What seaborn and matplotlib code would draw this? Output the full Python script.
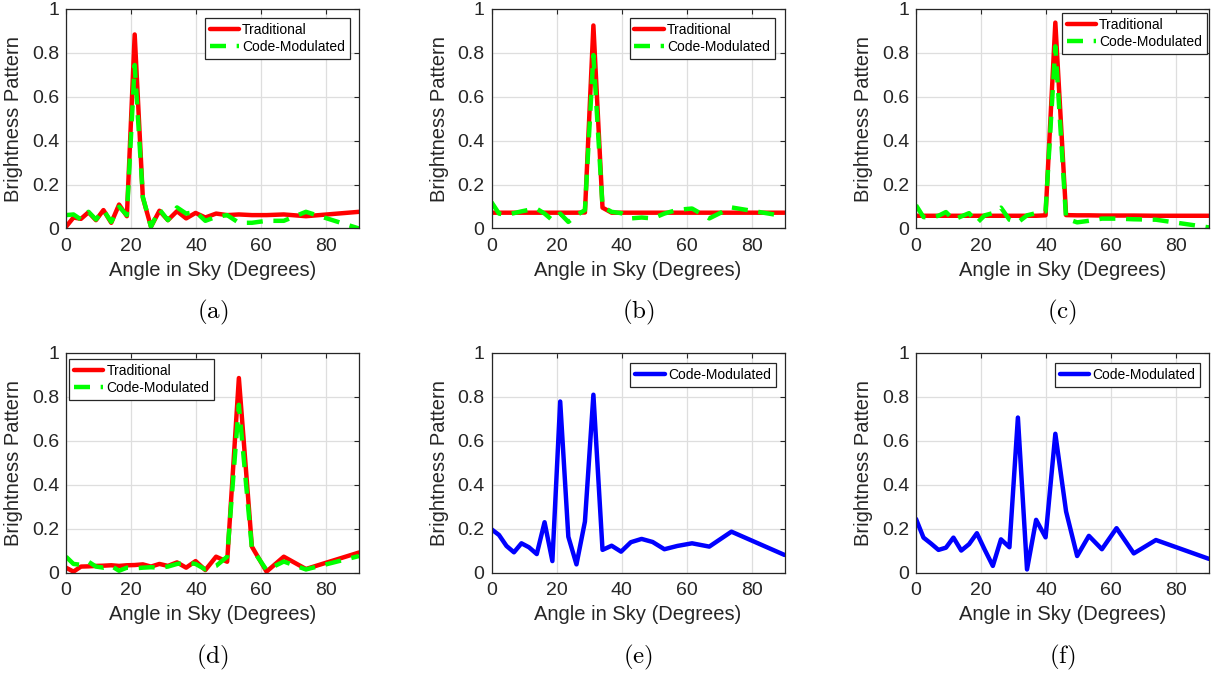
import matplotlib
matplotlib.use("Agg")
import matplotlib.pyplot as plt
import seaborn as sns
import pandas as pd

# ---------------- data ----------------
ANGLES = [0, 2.3, 4.6, 6.9, 9.2, 11.5, 13.9, 16.3, 18.7, 21.1, 23.6, 26.1, 28.7,
          31.3, 34.1, 36.9, 39.8, 42.8, 46.1, 49.5, 53.1, 57.1, 61.6, 66.9, 73.7, 90]

A_TRAD = [0.008, 0.050, 0.044, 0.074, 0.038, 0.084, 0.026, 0.109, 0.056, 0.884, 0.141, 0.008, 0.081,
          0.038, 0.079, 0.046, 0.071, 0.050, 0.068, 0.061, 0.064, 0.061, 0.061, 0.064, 0.056, 0.076]
A_CODE = [0.061, 0.064, 0.041, 0.076, 0.041, 0.084, 0.030, 0.099, 0.061, 0.745, 0.144, 0.008, 0.087,
          0.038, 0.096, 0.068, 0.076, 0.035, 0.053, 0.061, 0.026, 0.026, 0.035, 0.035, 0.076, 0.000]

B_TRAD = [0.072, 0.072, 0.072, 0.072, 0.072, 0.072, 0.072, 0.072, 0.072, 0.072, 0.072, 0.072, 0.073,
          0.925, 0.095, 0.072, 0.072, 0.072, 0.072, 0.072, 0.072, 0.072, 0.072, 0.072, 0.072, 0.072]
B_CODE = [0.120, 0.068, 0.062, 0.070, 0.078, 0.085, 0.090, 0.068, 0.038, 0.068, 0.030, 0.060, 0.084,
          0.790, 0.099, 0.076, 0.070, 0.046, 0.050, 0.046, 0.068, 0.085, 0.091, 0.046, 0.096, 0.056]

C_TRAD = [0.058, 0.058, 0.058, 0.058, 0.058, 0.058, 0.058, 0.058, 0.058, 0.058, 0.058, 0.058, 0.058,
          0.058, 0.058, 0.058, 0.060, 0.938, 0.061, 0.060, 0.060, 0.059, 0.059, 0.059, 0.058, 0.058]
C_CODE = [0.106, 0.052, 0.050, 0.058, 0.075, 0.040, 0.055, 0.070, 0.025, 0.060, 0.070, 0.095, 0.040,
          0.028, 0.060, 0.070, 0.078, 0.830, 0.045, 0.028, 0.035, 0.045, 0.045, 0.042, 0.040, 0.005]

D_TRAD = [0.022, 0.004, 0.027, 0.028, 0.030, 0.031, 0.033, 0.030, 0.033, 0.034, 0.037, 0.027, 0.039,
          0.030, 0.046, 0.022, 0.052, 0.011, 0.072, 0.049, 0.886, 0.118, 0.004, 0.072, 0.016, 0.091]
D_CODE = [0.072, 0.039, 0.035, 0.049, 0.027, 0.022, 0.030, 0.008, 0.022, 0.019, 0.022, 0.024, 0.022,
          0.027, 0.039, 0.045, 0.039, 0.014, 0.030, 0.072, 0.764, 0.110, 0.011, 0.050, 0.014, 0.075]

E_CODE = [0.197, 0.171, 0.121, 0.092, 0.133, 0.115, 0.084, 0.229, 0.052, 0.779, 0.163, 0.037, 0.232,
          0.810, 0.103, 0.122, 0.095, 0.138, 0.153, 0.139, 0.106, 0.121, 0.133, 0.118, 0.186, 0.080]
F_CODE = [0.244, 0.159, 0.132, 0.103, 0.113, 0.159, 0.100, 0.129, 0.179, 0.104, 0.030, 0.151, 0.115,
          0.706, 0.014, 0.240, 0.160, 0.632, 0.278, 0.075, 0.167, 0.106, 0.202, 0.087, 0.148, 0.062]

CAPTIONS = ["(a)", "(b)", "(c)", "(d)", "(e)", "(f)"]
X_TICKS = [0, 20, 40, 60, 80]
Y_TICKS = [0, 0.2, 0.4, 0.6, 0.8, 1]
Y_TICK_LABELS = ["0", "0.2", "0.4", "0.6", "0.8", "1"]
X_LABEL = "Angle in Sky (Degrees)"
Y_LABEL = "Brightness Pattern"

# ---------------- style ----------------
sns.set_theme(style="white")
plt.rcParams["font.family"] = ["Liberation Sans", "DejaVu Sans"]
plt.rcParams["mathtext.fontset"] = "cm"

TXT = "#262626"
RED, GREEN, BLUE = "#ff0000", "#00ff00", "#0000ff"

fig = plt.figure(figsize=(12.12, 6.75), dpi=100)

W, H = 1212.0, 675.0
col_left = [66, 491.5, 916]
row_top = [9, 353]
ax_w, ax_h = 293, 219.5

panels = [
    dict(trad=A_TRAD, code=A_CODE, leg=("upper right", (0.969, 0.959))),
    dict(trad=B_TRAD, code=B_CODE, leg=("upper right", (0.967, 0.959))),
    dict(trad=C_TRAD, code=C_CODE, leg=("upper right", (0.993, 0.982))),
    dict(trad=D_TRAD, code=D_CODE, leg=("upper left", (0.010, 0.973))),
    dict(trad=None, code=E_CODE, leg=("upper right", (0.970, 0.954))),
    dict(trad=None, code=F_CODE, leg=("upper right", (0.969, 0.954))),
]

for i, p in enumerate(panels):
    r, c = divmod(i, 3)
    l = col_left[c] / W
    b = 1 - (row_top[r] + ax_h) / H
    ax = fig.add_axes([l, b, ax_w / W, ax_h / H])

    if p["trad"] is not None:
        df = pd.DataFrame({"angle": ANGLES, "trad": p["trad"], "code": p["code"]})
        sns.lineplot(data=df, x="angle", y="trad", color=RED, lw=3.2,
                     label="Traditional", ax=ax)
        sns.lineplot(data=df, x="angle", y="code", color=GREEN, lw=3.2,
                     linestyle=(0, (3.6, 2.4)), label="Code-Modulated", ax=ax)
    else:
        df = pd.DataFrame({"angle": ANGLES, "code": p["code"]})
        sns.lineplot(data=df, x="angle", y="code", color=BLUE, lw=3.2,
                     label="Code-Modulated", ax=ax)

    ax.set_xlim(0, 90)
    ax.set_ylim(0, 1)
    ax.set_xticks(X_TICKS)
    ax.set_yticks(Y_TICKS)
    ax.set_yticklabels(Y_TICK_LABELS)
    ax.grid(True, color="#dedede", lw=0.9)
    ax.set_axisbelow(True)
    for s in ax.spines.values():
        s.set_visible(True)
        s.set_color(TXT)
        s.set_linewidth(0.9)
    ax.tick_params(direction="in", length=3.5, width=0.8, colors=TXT,
                   labelsize=14, top=True, right=True, pad=5)
    ax.tick_params(axis="x", pad=7)
    ax.set_xlabel(X_LABEL, fontsize=14.5, color=TXT, labelpad=4)
    ax.set_ylabel(Y_LABEL, fontsize=14.5, color=TXT, labelpad=6)

    loc, anchor = p["leg"]
    leg = ax.legend(loc=loc, bbox_to_anchor=anchor, borderaxespad=0,
                    fontsize=10, frameon=True, fancybox=False,
                    handlelength=2.1, handletextpad=0.25, labelspacing=0.25,
                    borderpad=0.35)
    leg.get_frame().set_edgecolor(TXT)
    leg.get_frame().set_linewidth(0.9)
    leg.get_frame().set_alpha(1)
    for t in leg.get_texts():
        t.set_color("black")

    cx = (col_left[c] + ax_w / 2) / W
    cy = 1 - (312.5 if r == 0 else 657) / H
    fig.text(cx, cy, r"$\mathrm{" + CAPTIONS[i] + "}$", ha="center", va="center",
             fontsize=18, color="black")

fig.savefig("out.png", dpi=100)
